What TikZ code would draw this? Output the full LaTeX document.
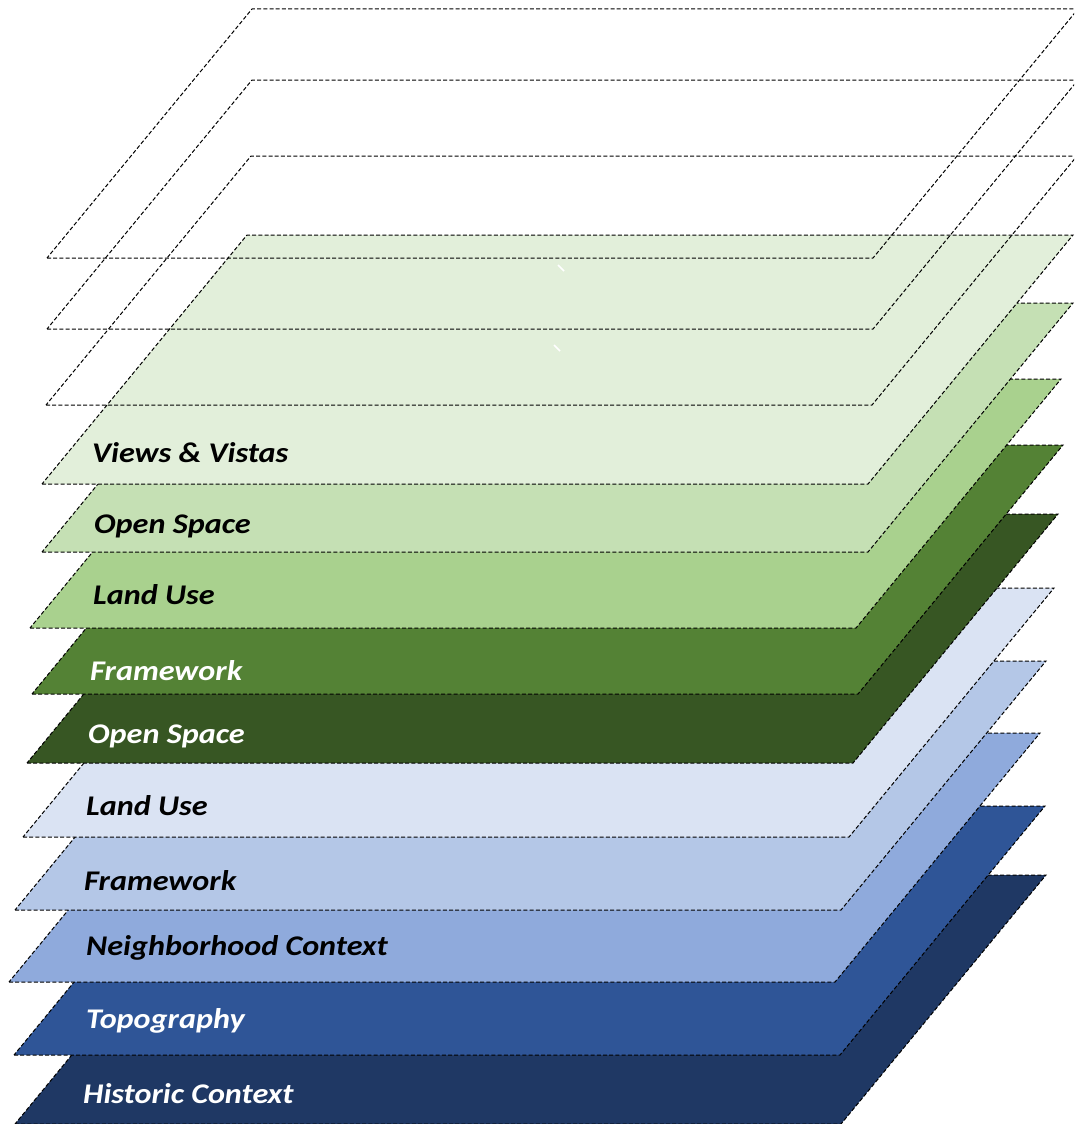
\documentclass[tikz,border=0pt]{standalone}
\usepackage{fontspec}
\setmainfont{Carlito}
\definecolor{gA}{HTML}{E2EFDA}
\definecolor{gB}{HTML}{C5E0B4}
\definecolor{gC}{HTML}{A9D18E}
\definecolor{gD}{HTML}{548235}
\definecolor{gE}{HTML}{375623}
\definecolor{bA}{HTML}{DAE3F3}
\definecolor{bB}{HTML}{B4C7E7}
\definecolor{bC}{HTML}{8FAADC}
\definecolor{bD}{HTML}{2F5597}
\definecolor{bE}{HTML}{1F3864}
\tikzset{
  layer/.style={draw=black, line width=1pt, dash pattern=on 4pt off 2.2pt, line join=miter},
  lbl/.style={anchor=base west, inner sep=0pt, font=\fontsize{28.5}{30}\selectfont\bfseries\itshape},
}
\newcommand\mylayer[3]{\draw[layer,#3] (#1,#2) -- ++(826,0) -- ++(205,-249) -- ++(-826,0) -- cycle;}
\newcommand\wide[1]{\scalebox{1.13}[1]{#1}}
\begin{document}
\begin{tikzpicture}[x=1pt,y=-1pt]
\useasboundingbox (0,0) rectangle (1074,1124);
\clip (0,0) rectangle (1074,1124);
% bottom to top
\mylayer{15}{1124}{fill=bE}
\mylayer{14}{1055}{fill=bD}
\mylayer{9}{982}{fill=bC}
\mylayer{15}{910}{fill=bB}
\mylayer{23}{837}{fill=bA}
\mylayer{27}{763}{fill=gE}
\mylayer{32}{694}{fill=gD}
\mylayer{30}{628}{fill=gC}
\mylayer{42}{552}{fill=gB}
\mylayer{42}{484}{fill=gA}
\mylayer{46}{405}{}
\mylayer{47}{329}{}
\mylayer{47}{258}{}
% small white marks
\draw[white, line width=1.5pt] (558,265) -- (564,271);
\draw[white, line width=1.5pt] (554,345) -- (560,351);
% labels
\node[lbl, text=black] (t1) at (92,462) {\wide{Views \& Vistas}};
\node[lbl, text=black] (t2) at (94,533) {\wide{Open Space}};
\node[lbl, text=black] (t3) at (93,604) {\wide{Land Use}};
\node[lbl, text=white] (t4) at (90,680) {\wide{Framework}};
\node[lbl, text=white] (t5) at (88,743) {\wide{Open Space}};
\node[lbl, text=black] (t6) at (86,815) {\wide{Land Use}};
\node[lbl, text=black] (t7) at (84,890) {\wide{Framework}};
\node[lbl, text=black] (t8) at (86,955) {\wide{Neighborhood Context}};
\node[lbl, text=white] (t9) at (86,1028) {\wide{Topography}};
\node[lbl, text=white] (t10) at (83,1103) {\wide{Historic Context}};
\end{tikzpicture}
\end{document}
